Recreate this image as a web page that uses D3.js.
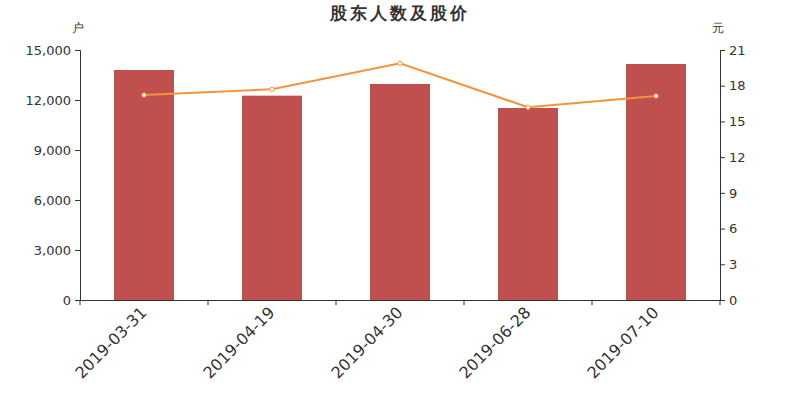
<!DOCTYPE html>
<html><head><meta charset="utf-8">
<script src="https://cdn.jsdelivr.net/npm/d3@7"></script>
<style>body{margin:0;background:#fff;}svg{display:block;font-family:"DejaVu Sans",sans-serif;}</style>
</head><body>
<svg id="c" width="800" height="400"></svg>
<script>
const categories = ["2019-03-31","2019-04-19","2019-04-30","2019-06-28","2019-07-10"];
const holders = [13800, 12260, 12960, 11520, 14160];
const prices = [17.22, 17.70, 19.88, 16.19, 17.14];
const leftTicks = [0,3000,6000,9000,12000,15000];
const rightTicks = [0,3,6,9,12,15,18,21];

const svg = d3.select("#c");
const L=80,R=720,T=50,B=300;
const x = d3.scaleBand().domain(categories).range([L,R]).paddingInner(0).paddingOuter(0);
const yL = d3.scaleLinear().domain([0,15000]).range([B,T]);
const yR = d3.scaleLinear().domain([0,21]).range([B,T]);
const barW = 60;

svg.append("text").attr("x",400).attr("y",19).attr("text-anchor","middle")
  .attr("font-size",17).attr("font-weight","bold").attr("fill","#333").attr("letter-spacing",3).text("股东人数及股价");

svg.append("g").selectAll("rect").data(categories).join("rect")
  .attr("x",d=>x(d)+x.bandwidth()/2-barW/2).attr("width",barW)
  .attr("y",(d,i)=>yL(holders[i])).attr("height",(d,i)=>B-yL(holders[i]))
  .attr("fill","#c0504d");

const line = d3.line().x((d,i)=>x(categories[i])+x.bandwidth()/2).y(d=>yR(d));
svg.append("path").datum(prices).attr("d",line).attr("fill","none").attr("stroke","#f5923e").attr("stroke-width",2);
svg.append("g").selectAll("circle").data(prices).join("circle")
  .attr("cx",(d,i)=>x(categories[i])+x.bandwidth()/2).attr("cy",d=>yR(d)).attr("r",2.2)
  .attr("fill","#fff").attr("stroke","#f5923e").attr("stroke-width",1);

const fmt = d3.format(",");
const gl = svg.append("g").attr("transform",`translate(${L},0)`)
  .call(d3.axisLeft(yL).tickValues(leftTicks).tickFormat(fmt).tickSizeOuter(0).tickSize(5).tickPadding(4));
const gr = svg.append("g").attr("transform",`translate(${R},0)`)
  .call(d3.axisRight(yR).tickValues(rightTicks).tickSizeOuter(0).tickSize(5).tickPadding(4));
const gx = svg.append("g").attr("transform",`translate(0,${B})`)
  .call(d3.axisBottom(x).tickSize(5).tickSizeOuter(0).tickFormat(d=>d));
gx.selectAll(".tick line").attr("transform",`translate(${-x.bandwidth()/2},0)`);
gx.append("line").attr("x1",R).attr("x2",R).attr("y1",0).attr("y2",5).attr("stroke","#333");
gx.selectAll(".tick text").attr("text-anchor","end").attr("dx",0).attr("dy",0)
  .attr("transform","translate(-2,8) rotate(-45)").attr("font-size",16);

[gl,gr,gx].forEach(g=>{
  g.selectAll(".domain,.tick line").attr("stroke","#333");
  g.selectAll("text").attr("fill","#333").attr("font-family","DejaVu Sans, sans-serif");
});
gl.selectAll("text").attr("font-size",13);
gr.selectAll("text").attr("font-size",13);

svg.append("text").attr("x",78).attr("y",32).attr("text-anchor","middle").attr("font-size",12).attr("fill","#333").text("户");
svg.append("text").attr("x",718).attr("y",32).attr("text-anchor","middle").attr("font-size",12).attr("fill","#333").text("元");
</script>
</body></html>
